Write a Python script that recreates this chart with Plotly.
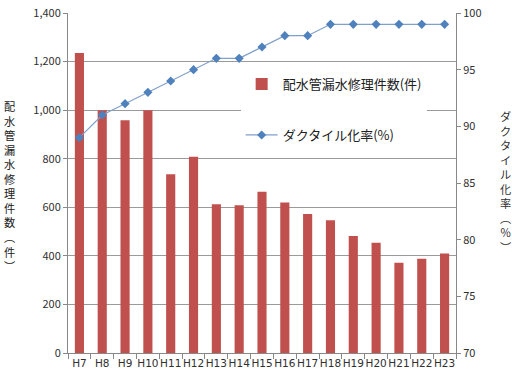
import plotly.graph_objects as go

categories = ["H7", "H8", "H9", "H10", "H11", "H12", "H13", "H14", "H15",
              "H16", "H17", "H18", "H19", "H20", "H21", "H22", "H23"]
repairs = [1235, 1000, 958, 1000, 736, 808, 612, 608, 664,
           620, 572, 547, 482, 454, 372, 388, 410]
ductile_rate = [89, 91, 92, 93, 94, 95, 96, 96, 97,
                98, 98, 99, 99, 99, 99, 99, 99]

bar_name = "配水管漏水修理件数(件)"
line_name = "ダクタイル化率(%)"
left_title = "配水管漏水修理件数︵件︶"
right_title = "ダクタイル化率︵%︶"

FONT = "Noto Sans CJK JP"

fig = go.Figure()
fig.add_trace(go.Bar(
    x=categories, y=repairs, name=bar_name,
    marker=dict(color="#C0504D", line=dict(width=0)),
    legendgroup="a",
))
fig.add_trace(go.Scatter(
    x=categories, y=ductile_rate, name=line_name, yaxis="y2",
    mode="lines+markers",
    line=dict(color="#7F9FCC", width=1.2),
    marker=dict(symbol="diamond", size=7, color="#4F81BD"),
    legendgroup="b",
))

L, R, T, B = 68, 56, 13, 30
W, H = 512, 383
pw = W - L - R
ph = H - T - B


def px_to_paper(px, py):
    return (px - L) / pw, (H - B - py) / ph


lx, ly = px_to_paper(9, 186)
rx, ry = px_to_paper(505, 181)
annotations = [
    dict(text="<br>".join(list(left_title)), x=lx, y=ly, xref="paper", yref="paper",
         showarrow=False, xanchor="center", yanchor="middle",
         font=dict(family=FONT, size=11.2, color="#202020")),
    dict(text="<br>".join(list(right_title)), x=rx, y=ry, xref="paper", yref="paper",
         showarrow=False, xanchor="center", yanchor="middle",
         font=dict(family=FONT, size=11.2, color="#303030")),
]

fig.update_layout(
    width=W, height=H,
    margin=dict(l=L, r=R, t=T, b=B, autoexpand=False),
    paper_bgcolor="white", plot_bgcolor="white",
    font=dict(family=FONT, color="#404040", size=11),
    bargap=0.6,
    showlegend=True,
    legend=dict(
        x=0.445, y=0.835, xanchor="left", yanchor="top",
        bgcolor="white", borderwidth=0,
        font=dict(family=FONT, size=13, color="#202020"),
        tracegroupgap=31, itemwidth=32,
        traceorder="grouped",
    ),
    xaxis=dict(
        range=[-0.5, len(categories) - 0.5], autorange=False,
        showline=True, linecolor="#888888", linewidth=1,
        ticks="outside", tickson="boundaries", ticklen=5, tickcolor="#888888",
        tickangle=0,
        tickfont=dict(family="DejaVu Sans", size=10.5, color="#303030"),
        showgrid=False,
    ),
    yaxis=dict(
        range=[0, 1400], dtick=200, tickformat=",",
        showline=True, linecolor="#888888", linewidth=1,
        ticks="outside", ticklen=4, tickcolor="#888888",
        showgrid=True, gridcolor="#9A9A9A", gridwidth=1,
        tickfont=dict(family=FONT, size=11, color="#303030"),
        zeroline=False,
    ),
    yaxis2=dict(
        range=[70, 100], dtick=5, overlaying="y", side="right",
        showline=True, linecolor="#888888", linewidth=1,
        ticks="outside", ticklen=4, tickcolor="#888888",
        showgrid=False, zeroline=False,
        tickfont=dict(family=FONT, size=11, color="#303030"),
    ),
    annotations=annotations,
)

fig.write_html("out.html")
